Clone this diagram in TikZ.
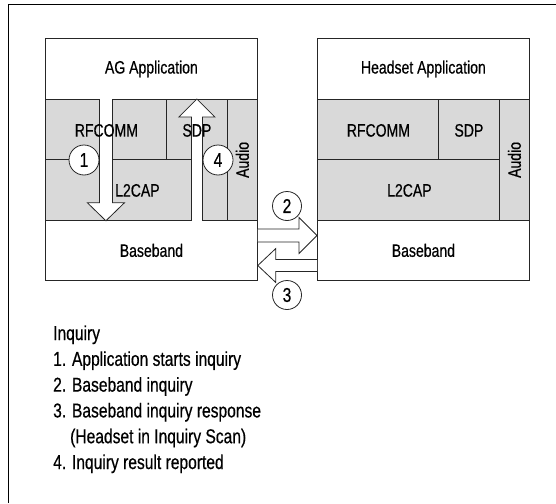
\documentclass[tikz,border=0pt]{standalone}
\usepackage{fontspec}
\setmainfont{Liberation Sans}[FakeStretch=0.78,FakeBold=0.5]
\usetikzlibrary{calc}
\begin{document}
\begin{tikzpicture}[x=1pt,y=-1pt,
  box/.style={draw=black!85, line width=0.8pt, inner sep=0pt, anchor=north west},
  graybox/.style={box, fill=black!15},
  whitebox/.style={box, fill=white},
  lbl/.style={font=\fontsize{18}{20}\selectfont, inner sep=0pt},
  barrow/.style={draw=black!85, line width=0.8pt, fill=white, line join=miter},
  num/.style={circle, draw=black!85, line width=0.8pt, fill=white, minimum size=30pt, inner sep=0pt, font=\fontsize{20}{22}\selectfont},
  legend/.style={anchor=base west, inner sep=0pt, font=\fontsize{20}{24}\selectfont}]
\useasboundingbox (0,0) rectangle (556,503);
\fill[white] (0,0) rectangle (556,503);
\draw[line width=1.5pt] (8.5,503) -- (8.5,4.5) -- (556,4.5);

% AG stack
\node[whitebox, minimum width=212pt, minimum height=61pt] (agapp) at (45,38) {};
\node[graybox, minimum width=121pt, minimum height=60pt] (agrf) at (45,99) {};
\node[graybox, minimum width=61pt, minimum height=60pt] (agsdp) at (166,99) {};
\node[graybox, minimum width=182pt, minimum height=61pt] (agl2) at (45,159) {};
\node[graybox, minimum width=30pt, minimum height=121pt] (agaudio) at (227,99) {};
\node[whitebox, minimum width=212pt, minimum height=60pt] (agbb) at (45,220) {};

% Headset stack
\node[whitebox, minimum width=212pt, minimum height=61pt] (hsapp) at (317,38) {};
\node[graybox, minimum width=121pt, minimum height=60pt] (hsrf) at (317,99) {};
\node[graybox, minimum width=61pt, minimum height=60pt] (hssdp) at (438,99) {};
\node[graybox, minimum width=182pt, minimum height=61pt] (hsl2) at (317,159) {};
\node[graybox, minimum width=30pt, minimum height=121pt] (hsaudio) at (499,99) {};
\node[whitebox, minimum width=212pt, minimum height=60pt] (hsbb) at (317,220) {};

% block arrows
\coordinate (a1s) at (agrf.north);
\coordinate (a1t) at (agrf.north |- agl2.south);
\draw[barrow] ($(a1s)+(-6.5,0)$) -- ($(a1t)+(-6.5,-18)$) -- ($(a1t)+(-18.5,-18)$) -- (a1t)
  -- ($(a1t)+(18.5,-18)$) -- ($(a1t)+(6.5,-18)$) -- ($(a1s)+(6.5,0)$);

\coordinate (a4s) at (agsdp.north |- agl2.south);
\coordinate (a4t) at (agsdp.north);
\draw[barrow] ($(a4s)+(-5.5,0)$) -- ($(a4t)+(-5.5,18)$) -- ($(a4t)+(-18,18)$) -- (a4t)
  -- ($(a4t)+(18,18)$) -- ($(a4t)+(5.5,18)$) -- ($(a4s)+(5.5,0)$);

\coordinate (a2s) at ($(agbb.north east)+(0,15.5)$);
\coordinate (a2t) at ($(hsbb.north west)+(0,15.5)$);
\draw[barrow] ($(a2s)+(0,-6.5)$) -- ($(a2t)+(-18,-6.5)$) -- ($(a2t)+(-18,-18)$) -- (a2t)
  -- ($(a2t)+(-18,18)$) -- ($(a2t)+(-18,6.5)$) -- ($(a2s)+(0,6.5)$);

\coordinate (a3s) at ($(hsbb.north west)+(0,45.5)$);
\coordinate (a3t) at ($(agbb.north east)+(0,45.5)$);
\draw[barrow] ($(a3s)+(0,-6)$) -- ($(a3t)+(18,-6)$) -- ($(a3t)+(18,-17)$) -- (a3t)
  -- ($(a3t)+(18,17)$) -- ($(a3t)+(18,6)$) -- ($(a3s)+(0,6)$);

% numbered circles
\node[num] (c1) at (84,160) {1};
\node[num] (c4) at (218,160) {4};
\node[num, minimum size=29pt] (c2) at (287,206) {2};
\node[num, minimum size=29pt] (c3) at (287,295) {3};

% labels
\node[lbl] (agappT) at (agapp) {AG Application};
\node[lbl] (agrfT) at ($(agrf)+(0.5,1)$) {RFCOMM};
\node[lbl] (agsdpT) at ($(agsdp)+(0,1)$) {SDP};
\node[lbl] (agl2T) at ($(agl2)+(1,0.5)$) {L2CAP};
\node[lbl, rotate=90] (agaudioT) at (agaudio) {Audio};
\node[lbl] (agbbT) at (agbb) {Baseband};

\node[lbl] (hsappT) at (hsapp) {Headset Application};
\node[lbl] (hsrfT) at ($(hsrf)+(0.5,1)$) {RFCOMM};
\node[lbl] (hssdpT) at ($(hssdp)+(0,1)$) {SDP};
\node[lbl] (hsl2T) at ($(hsl2)+(1,0.5)$) {L2CAP};
\node[lbl, rotate=90] (hsaudioT) at (hsaudio) {Audio};
\node[lbl] (hsbbT) at (hsbb) {Baseband};

% legend
\node[legend] (lg0) at (53,340) {Inquiry};
\node[legend] (lg1) at (53,365.8) {1. Application starts inquiry};
\node[legend] (lg2) at (53,391.6) {2. Baseband inquiry};
\node[legend] (lg3) at (53,417.4) {3. Baseband inquiry response};
\node[legend] (lg3b) at (70,443.2) {(Headset in Inquiry Scan)};
\node[legend] (lg4) at (53,469) {4. Inquiry result reported};
\end{tikzpicture}
\end{document}
